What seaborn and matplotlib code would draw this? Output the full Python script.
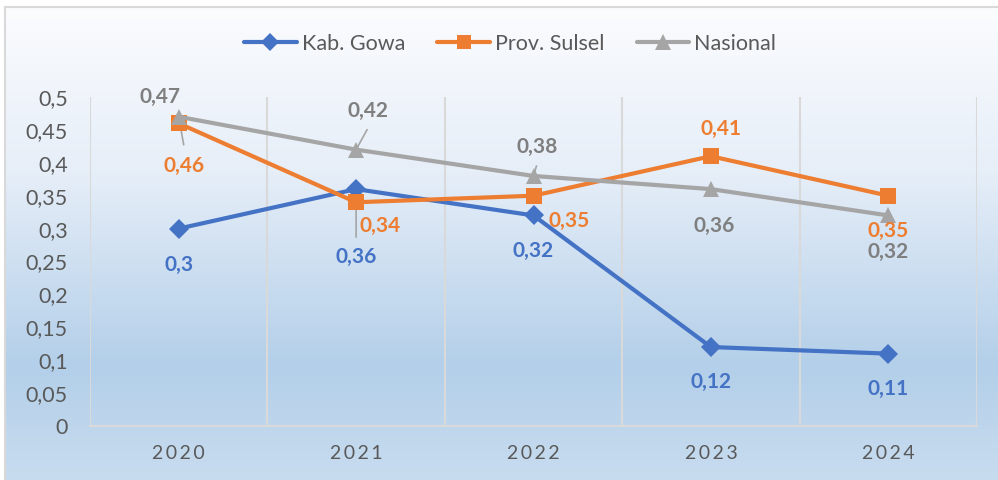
import numpy as np
import pandas as pd
import matplotlib
matplotlib.use("Agg")
import matplotlib.pyplot as plt
import seaborn as sns
from matplotlib.colors import LinearSegmentedColormap
from matplotlib.lines import Line2D

# ---- data ----
years = ["2020", "2021", "2022", "2023", "2024"]
series_names = ["Kab. Gowa", "Prov. Sulsel", "Nasional"]
gowa = [0.30, 0.36, 0.32, 0.12, 0.11]
sulsel = [0.46, 0.34, 0.35, 0.41, 0.35]
nasional = [0.47, 0.42, 0.38, 0.36, 0.32]
yticks = [0, 0.05, 0.1, 0.15, 0.2, 0.25, 0.3, 0.35, 0.4, 0.45, 0.5]
ytick_labels = ["0", "0,05", "0,1", "0,15", "0,2", "0,25", "0,3", "0,35", "0,4", "0,45", "0,5"]

colors = {"Kab. Gowa": "#4472C4", "Prov. Sulsel": "#ED7D31", "Nasional": "#A5A5A5"}
label_colors = {"Kab. Gowa": "#4472C4", "Prov. Sulsel": "#ED7D31", "Nasional": "#7F7F7F"}
markers = {"Kab. Gowa": "D", "Prov. Sulsel": "s", "Nasional": "^"}
msizes = {"Kab. Gowa": 10, "Prov. Sulsel": 11, "Nasional": 12}

# label offsets in pixels (dx right, dy down)
offsets = {
    "Kab. Gowa": [(0, 36), (0, 68), (0, 36), (0, 35), (0, 35)],
    "Prov. Sulsel": [(5, 43), (24, 24), (36, 25), (10, -27), (0, 35)],
    "Nasional": [(-19, -20), (12, -39), (4, -29), (3, 37), (0, 37)],
}

sns.set_theme(style="white")
plt.rcParams['font.family'] = ['Lato', 'DejaVu Sans']

df = pd.DataFrame({
    "x": list(range(len(years))) * 3,
    "value": gowa + sulsel + nasional,
    "series": [s for s in series_names for _ in years],
})

W, H = 998, 480
fig = plt.figure(figsize=(W / 100, H / 100), dpi=100)
fig.patch.set_facecolor("white")

# background gradient panel
bg = fig.add_axes([5 / W, 0, 1 - 5 / W, 1 - 7 / H], zorder=-5)
cmap = LinearSegmentedColormap.from_list(
    "bgc", [(0, "#fbfcfe"), (0.35, "#e6eef8"), (0.76, "#b3cfe9"), (1.0, "#c8dcef")])
grad = np.linspace(0, 1, 256).reshape(-1, 1)
bg.imshow(grad, aspect="auto", cmap=cmap, extent=[0, 1, 1, 0])
bg.set_xlim(0, 1)
bg.set_ylim(1, 0)
bg.set_xticks([])
bg.set_yticks([])
for side, sp in bg.spines.items():
    sp.set_color("#d9d9d9")
    sp.set_linewidth(1.5)
bg.spines["right"].set_visible(False)
bg.spines["bottom"].set_visible(False)

ax = fig.add_axes([90 / W, 1 - 426 / H, (977 - 90) / W, (426 - 97) / H])
ax.set_facecolor("none")

sns.lineplot(data=df, x="x", y="value", hue="series", style="series",
             palette=colors, markers=markers, dashes=False, linewidth=3,
             markersize=11, markeredgewidth=0, ax=ax, legend=False, zorder=3)
for line, name in zip(ax.get_lines(), series_names):
    line.set_markersize(msizes[name])

ax.set_xlim(-0.5, len(years) - 0.5)
ax.set_ylim(0, 0.5)
ax.set_xlabel("")
ax.set_ylabel("")
ax.set_xticks(range(len(years)))
ax.set_xticklabels(["\u2009".join(y) for y in years], fontsize=14, color="#595959")
ax.set_yticks(yticks)
ax.set_yticklabels(ytick_labels, fontsize=15.5, color="#595959")
ax.tick_params(axis="x", length=0, pad=14)
ax.tick_params(axis="y", length=0, pad=16)
for sp in ["top", "right", "left"]:
    ax.spines[sp].set_visible(False)
ax.spines["bottom"].set_color("#d9d9d9")
ax.spines["bottom"].set_linewidth(1.5)

# vertical gridlines at category boundaries
for b in np.arange(-0.5, len(years), 1.0):
    ax.axvline(b, color="#d9d9d9", lw=1.5, zorder=1)

px = 0.72  # pixel to points
vals = {"Kab. Gowa": gowa, "Prov. Sulsel": sulsel, "Nasional": nasional}

# leader lines (pixel offsets relative to points)
leaders = [("Nasional", 0, (5, 28)), ("Kab. Gowa", 1, (0, 48)),
           ("Nasional", 1, (11, -20)), ("Nasional", 2, (3, -10))]
for name, i, (dx, dy) in leaders:
    ax.annotate("", xy=(i, vals[name][i]), xytext=(dx * px, -dy * px),
                textcoords="offset points",
                arrowprops=dict(arrowstyle="-", color="#A5A5A5", lw=1.2,
                                shrinkA=0, shrinkB=2), zorder=2)

for name in series_names:
    for i, v in enumerate(vals[name]):
        dx, dy = offsets[name][i]
        ax.annotate(f"{v:g}".replace(".", ","), xy=(i, v),
                    xytext=(dx * px, -dy * px), textcoords="offset points",
                    ha="center", va="center", fontsize=15, fontweight="bold",
                    color=label_colors[name], zorder=5, annotation_clip=False)

# legend
handles = [Line2D([0], [0], color=colors[n], lw=3, marker=markers[n],
                  markersize=msizes[n] - 1, markeredgewidth=0) for n in series_names]
fig.legend(handles, series_names, loc="center", bbox_to_anchor=(0.511, 1 - 44 / H),
           ncol=3, frameon=False, fontsize=15.5, handlelength=2.45, handletextpad=0.23,
           columnspacing=1.5, labelcolor="#595959")

fig.savefig("out.png", dpi=100)
